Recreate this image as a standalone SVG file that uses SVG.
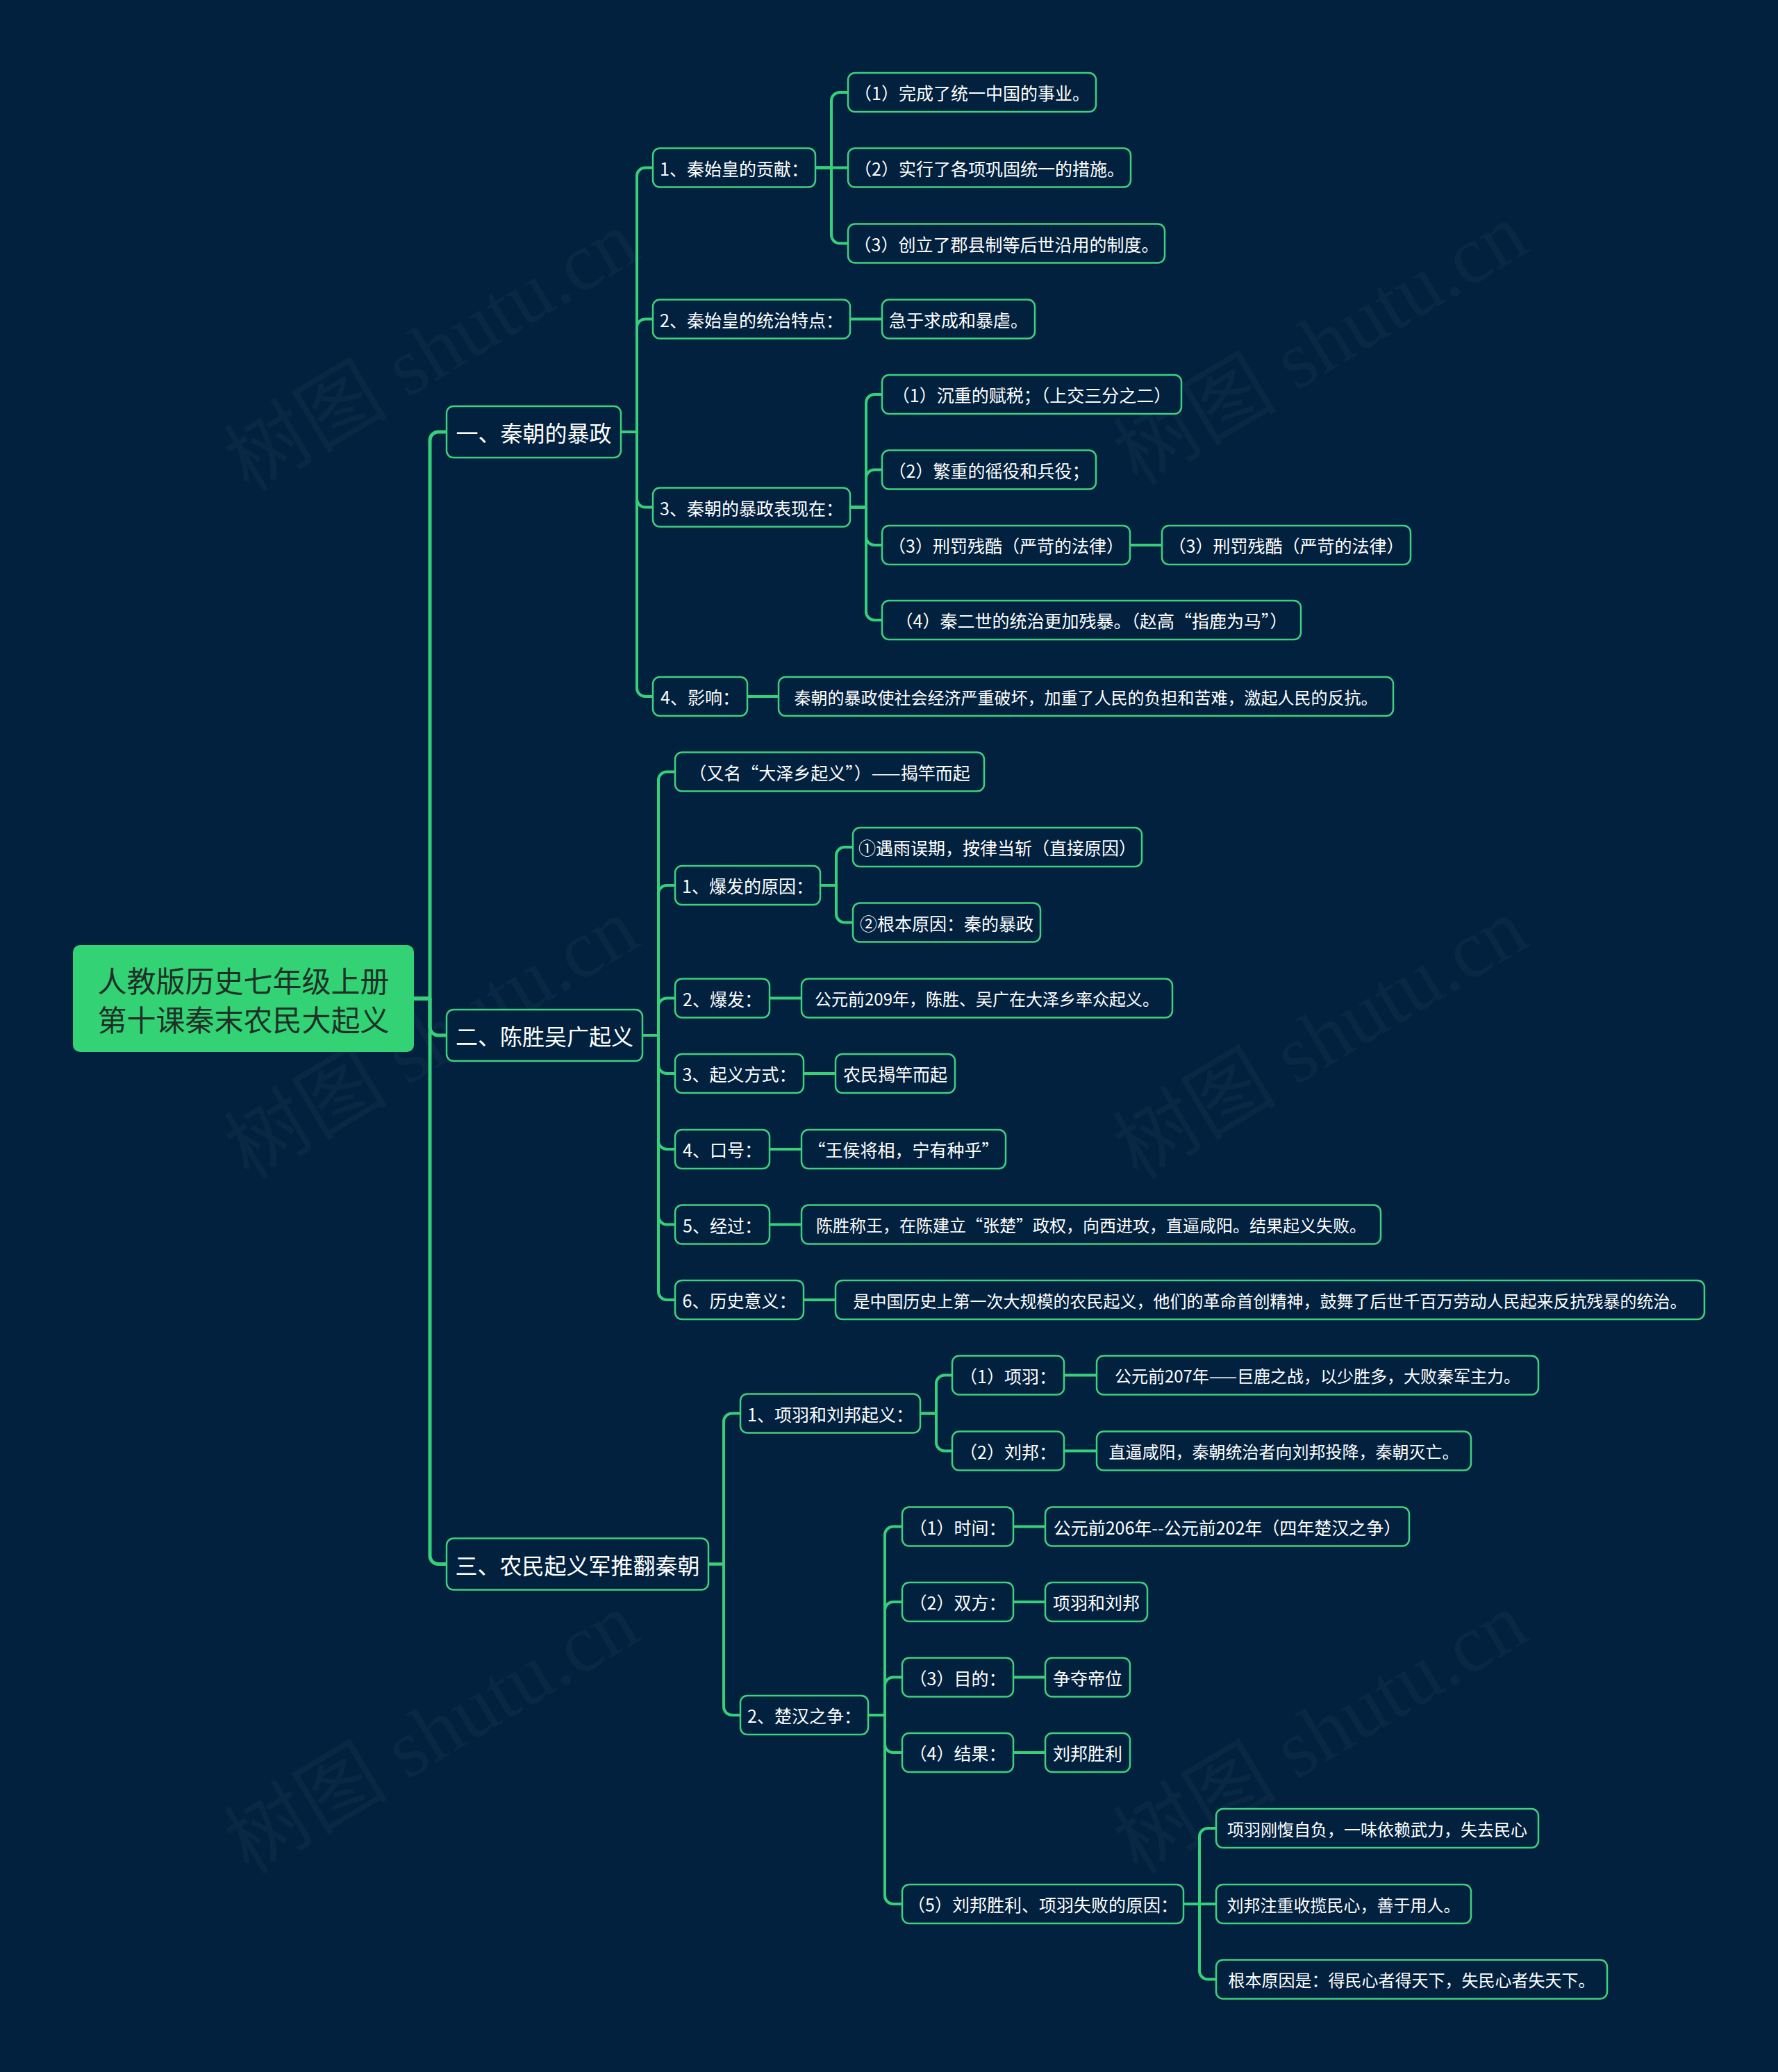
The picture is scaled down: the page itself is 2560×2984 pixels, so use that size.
<svg xmlns="http://www.w3.org/2000/svg" width="2560" height="2984" viewBox="0 0 2560 2984">
<style>
.bg{fill:#01213e}
.wm{font-family:"Liberation Serif","Noto Sans CJK SC",serif;font-size:118px;fill:#ffffff;fill-opacity:0.035;text-anchor:middle}
.root rect{fill:#33d375}
.root text{font-family:"Noto Sans CJK SC","Noto Sans",sans-serif;font-size:42px;fill:#1f3028;text-anchor:middle;dominant-baseline:central}
.n rect{fill:#01213e;stroke:#3fd07f;stroke-width:2.5}
.n text{font-family:"Noto Sans CJK SC","Noto Sans",sans-serif;font-size:25px;fill:#ffffff;text-anchor:middle;dominant-baseline:central}
.n.s text{font-size:24px}
.l1 text{font-size:32px}
.c path{fill:none;stroke:#36cf7a;stroke-width:4;stroke-linecap:round;stroke-linejoin:round}
.c .t path{stroke-width:5}
</style>
<rect class="bg" x="0" y="0" width="2560" height="2984"/>
<g id="watermarks">
<text class="wm" transform="translate(642,540) rotate(-31)">树图 shutu.cn</text>
<text class="wm" transform="translate(1922,530) rotate(-31)">树图 shutu.cn</text>
<text class="wm" transform="translate(642,1530) rotate(-31)">树图 shutu.cn</text>
<text class="wm" transform="translate(1922,1530) rotate(-31)">树图 shutu.cn</text>
<text class="wm" transform="translate(642,2530) rotate(-31)">树图 shutu.cn</text>
<text class="wm" transform="translate(1922,2530) rotate(-31)">树图 shutu.cn</text>
</g>
<g id="connectors" class="c">
<g class="t">
<path d="M596 1438 H619 V634 A12 12 0 0 1 631 622 H643"/>
<path d="M596 1438 H619 V1479 A12 12 0 0 0 631 1491 H643"/>
<path d="M596 1438 H619 V2240.5 A12 12 0 0 0 631 2252.5 H643"/>
</g>
<path d="M894 622 H917 V253.5 A12 12 0 0 1 929 241.5 H940"/>
<path d="M894 622 H917 V471.5 A12 12 0 0 1 929 459.5 H940"/>
<path d="M894 622 H917 V718.5 A12 12 0 0 0 929 730.5 H940"/>
<path d="M894 622 H917 V991 A12 12 0 0 0 929 1003 H940"/>
<path d="M1174 241.5 H1197 V145 A12 12 0 0 1 1209 133 H1221"/>
<path d="M1174 241.5 H1221"/>
<path d="M1174 241.5 H1197 V338.5 A12 12 0 0 0 1209 350.5 H1221"/>
<path d="M1224 459.5 H1270"/>
<path d="M1224 730.5 H1247 V580 A12 12 0 0 1 1259 568 H1270"/>
<path d="M1224 730.5 H1247 V688.5 A12 12 0 0 1 1259 676.5 H1270"/>
<path d="M1224 730.5 H1247 V773 A12 12 0 0 0 1259 785 H1270"/>
<path d="M1224 730.5 H1247 V881 A12 12 0 0 0 1259 893 H1270"/>
<path d="M1627 785 H1673"/>
<path d="M1076 1003 H1121"/>
<path d="M925 1491 H948 V1123.5 A12 12 0 0 1 960 1111.5 H972"/>
<path d="M925 1491 H948 V1287 A12 12 0 0 1 960 1275 H972"/>
<path d="M925 1491 H948 V1449.5 A12 12 0 0 1 960 1437.5 H972"/>
<path d="M925 1491 H948 V1534 A12 12 0 0 0 960 1546 H972"/>
<path d="M925 1491 H948 V1643 A12 12 0 0 0 960 1655 H972"/>
<path d="M925 1491 H948 V1751.5 A12 12 0 0 0 960 1763.5 H972"/>
<path d="M925 1491 H948 V1860 A12 12 0 0 0 960 1872 H972"/>
<path d="M1181 1275 H1204 V1232 A12 12 0 0 1 1216 1220 H1228"/>
<path d="M1181 1275 H1204 V1316.5 A12 12 0 0 0 1216 1328.5 H1228"/>
<path d="M1108 1437.5 H1154"/>
<path d="M1157 1546 H1203"/>
<path d="M1108 1655 H1154"/>
<path d="M1108 1763.5 H1154"/>
<path d="M1157 1872 H1203"/>
<path d="M1020 2252.5 H1042 V2047.5 A12 12 0 0 1 1054 2035.5 H1066"/>
<path d="M1020 2252.5 H1042 V2458 A12 12 0 0 0 1054 2470 H1066"/>
<path d="M1325 2035.5 H1348 V1992.5 A12 12 0 0 1 1360 1980.5 H1371"/>
<path d="M1325 2035.5 H1348 V2077.5 A12 12 0 0 0 1360 2089.5 H1371"/>
<path d="M1532 1980.5 H1579"/>
<path d="M1532 2089.5 H1579"/>
<path d="M1250 2470 H1274 V2210.5 A12 12 0 0 1 1286 2198.5 H1299"/>
<path d="M1250 2470 H1274 V2319 A12 12 0 0 1 1286 2307 H1299"/>
<path d="M1250 2470 H1274 V2427.5 A12 12 0 0 1 1286 2415.5 H1299"/>
<path d="M1250 2470 H1274 V2512 A12 12 0 0 0 1286 2524 H1299"/>
<path d="M1250 2470 H1274 V2730 A12 12 0 0 0 1286 2742 H1299"/>
<path d="M1459 2198.5 H1505"/>
<path d="M1459 2307 H1505"/>
<path d="M1459 2415.5 H1505"/>
<path d="M1459 2524 H1505"/>
<path d="M1704 2742 H1727 V2645 A12 12 0 0 1 1739 2633 H1751"/>
<path d="M1704 2742 H1751"/>
<path d="M1704 2742 H1727 V2838.5 A12 12 0 0 0 1739 2850.5 H1751"/>
</g>
<g id="root" class="root">
<rect x="105" y="1361" width="491" height="154" rx="10"/>
<text x="350.5" y="1410">人教版历史七年级上册</text>
<text x="350.5" y="1466">第十课秦末农民大起义</text>
</g>
<g id="s1" class="n l1"><rect x="643" y="585" width="251" height="74" rx="10"/><text x="768.5" y="622">一、秦朝的暴政</text></g>
<g id="s2" class="n l1"><rect x="643" y="1454" width="282" height="74" rx="10"/><text x="784" y="1491">二、陈胜吴广起义</text></g>
<g id="s3" class="n l1"><rect x="643" y="2215.5" width="377" height="74" rx="10"/><text x="831.5" y="2252.5">三、农民起义军推翻秦朝</text></g>

<g id="a1" class="n"><rect x="940" y="213.5" width="234" height="56" rx="10"/><text x="1057" y="241.5">1、秦始皇的贡献：</text></g>
<g id="a1a" class="n"><rect x="1221" y="105" width="357" height="56" rx="10"/><text x="1399.5" y="133">（1）完成了统一中国的事业。</text></g>
<g id="a1b" class="n"><rect x="1221" y="213.5" width="407" height="56" rx="10"/><text x="1424.5" y="241.5">（2）实行了各项巩固统一的措施。</text></g>
<g id="a1c" class="n"><rect x="1221" y="322.5" width="456" height="56" rx="10"/><text x="1449" y="350.5">（3）创立了郡县制等后世沿用的制度。</text></g>
<g id="a2" class="n"><rect x="940" y="431.5" width="284" height="56" rx="10"/><text x="1082" y="459.5">2、秦始皇的统治特点：</text></g>
<g id="a2a" class="n"><rect x="1270" y="431.5" width="220" height="56" rx="10"/><text x="1380" y="459.5">急于求成和暴虐。</text></g>
<g id="a3" class="n"><rect x="940" y="702.5" width="284" height="56" rx="10"/><text x="1082" y="730.5">3、秦朝的暴政表现在：</text></g>
<g id="a3a" class="n"><rect x="1270" y="540" width="431" height="56" rx="10"/><text x="1485.5" y="568">（1）沉重的赋税；（上交三分之二）</text></g>
<g id="a3b" class="n"><rect x="1270" y="648.5" width="308" height="56" rx="10"/><text x="1424" y="676.5">（2）繁重的徭役和兵役；</text></g>
<g id="a3c" class="n"><rect x="1270" y="757" width="357" height="56" rx="10"/><text x="1448.5" y="785">（3）刑罚残酷（严苛的法律）</text></g>
<g id="a3c1" class="n"><rect x="1673" y="757" width="358" height="56" rx="10"/><text x="1852" y="785">（3）刑罚残酷（严苛的法律）</text></g>
<g id="a3d" class="n"><rect x="1270" y="865" width="603" height="56" rx="10"/><text x="1571.5" y="893">（4）秦二世的统治更加残暴。（赵高“指鹿为马”）</text></g>
<g id="a4" class="n"><rect x="940" y="975" width="136" height="56" rx="10"/><text x="1008" y="1003">4、影响：</text></g>
<g id="a4a" class="n s"><rect x="1121" y="975" width="885" height="56" rx="10"/><text x="1563.5" y="1003">秦朝的暴政使社会经济严重破坏，加重了人民的负担和苦难，激起人民的反抗。</text></g>

<g id="b0" class="n"><rect x="972" y="1083.5" width="445" height="56" rx="10"/><text x="1194.5" y="1111.5">（又名“大泽乡起义”）——揭竿而起</text></g>
<g id="b1" class="n"><rect x="972" y="1247" width="209" height="56" rx="10"/><text x="1076.5" y="1275">1、爆发的原因：</text></g>
<g id="b1a" class="n"><rect x="1228" y="1192" width="416" height="56" rx="10"/><text x="1436" y="1220">①遇雨误期，按律当斩（直接原因）</text></g>
<g id="b1b" class="n"><rect x="1228" y="1300.5" width="270" height="56" rx="10"/><text x="1363" y="1328.5">②根本原因：秦的暴政</text></g>
<g id="b2" class="n"><rect x="972" y="1409.5" width="136" height="56" rx="10"/><text x="1040" y="1437.5">2、爆发：</text></g>
<g id="b2a" class="n s"><rect x="1154" y="1409.5" width="534" height="56" rx="10"/><text x="1421" y="1437.5">公元前209年，陈胜、吴广在大泽乡率众起义。</text></g>
<g id="b3" class="n"><rect x="972" y="1518" width="185" height="56" rx="10"/><text x="1064.5" y="1546">3、起义方式：</text></g>
<g id="b3a" class="n"><rect x="1203" y="1518" width="172" height="56" rx="10"/><text x="1289" y="1546">农民揭竿而起</text></g>
<g id="b4" class="n"><rect x="972" y="1627" width="136" height="56" rx="10"/><text x="1040" y="1655">4、口号：</text></g>
<g id="b4a" class="n"><rect x="1154" y="1627" width="294" height="56" rx="10"/><text x="1301" y="1655">“王侯将相，宁有种乎”</text></g>
<g id="b5" class="n"><rect x="972" y="1735.5" width="136" height="56" rx="10"/><text x="1040" y="1763.5">5、经过：</text></g>
<g id="b5a" class="n s"><rect x="1154" y="1735.5" width="834" height="56" rx="10"/><text x="1571" y="1763.5">陈胜称王，在陈建立“张楚”政权，向西进攻，直逼咸阳。结果起义失败。</text></g>
<g id="b6" class="n"><rect x="972" y="1844" width="185" height="56" rx="10"/><text x="1064.5" y="1872">6、历史意义：</text></g>
<g id="b6a" class="n s"><rect x="1203" y="1844" width="1251" height="56" rx="10"/><text x="1828.5" y="1872">是中国历史上第一次大规模的农民起义，他们的革命首创精神，鼓舞了后世千百万劳动人民起来反抗残暴的统治。</text></g>

<g id="c1" class="n"><rect x="1066" y="2007.5" width="259" height="56" rx="10"/><text x="1195.5" y="2035.5">1、项羽和刘邦起义：</text></g>
<g id="c1a" class="n"><rect x="1371" y="1952.5" width="161" height="56" rx="10"/><text x="1451.5" y="1980.5">（1）项羽：</text></g>
<g id="c1a1" class="n s"><rect x="1579" y="1952.5" width="636" height="56" rx="10"/><text x="1897" y="1980.5">公元前207年——巨鹿之战，以少胜多，大败秦军主力。</text></g>
<g id="c1b" class="n"><rect x="1371" y="2061.5" width="161" height="56" rx="10"/><text x="1451.5" y="2089.5">（2）刘邦：</text></g>
<g id="c1b1" class="n s"><rect x="1579" y="2061.5" width="539" height="56" rx="10"/><text x="1848.5" y="2089.5">直逼咸阳，秦朝统治者向刘邦投降，秦朝灭亡。</text></g>
<g id="c2" class="n"><rect x="1066" y="2442" width="184" height="56" rx="10"/><text x="1158" y="2470">2、楚汉之争：</text></g>
<g id="c2a" class="n"><rect x="1299" y="2170.5" width="160" height="56" rx="10"/><text x="1379" y="2198.5">（1）时间：</text></g>
<g id="c2a1" class="n"><rect x="1505" y="2170.5" width="524" height="56" rx="10"/><text x="1767" y="2198.5">公元前206年--公元前202年（四年楚汉之争）</text></g>
<g id="c2b" class="n"><rect x="1299" y="2279" width="160" height="56" rx="10"/><text x="1379" y="2307">（2）双方：</text></g>
<g id="c2b1" class="n"><rect x="1505" y="2279" width="147" height="56" rx="10"/><text x="1578.5" y="2307">项羽和刘邦</text></g>
<g id="c2c" class="n"><rect x="1299" y="2387.5" width="160" height="56" rx="10"/><text x="1379" y="2415.5">（3）目的：</text></g>
<g id="c2c1" class="n"><rect x="1505" y="2387.5" width="122" height="56" rx="10"/><text x="1566" y="2415.5">争夺帝位</text></g>
<g id="c2d" class="n"><rect x="1299" y="2496" width="160" height="56" rx="10"/><text x="1379" y="2524">（4）结果：</text></g>
<g id="c2d1" class="n"><rect x="1505" y="2496" width="122" height="56" rx="10"/><text x="1566" y="2524">刘邦胜利</text></g>
<g id="c2e" class="n"><rect x="1299" y="2714" width="405" height="56" rx="10"/><text x="1501.5" y="2742">（5）刘邦胜利、项羽失败的原因：</text></g>
<g id="c2e1" class="n s"><rect x="1751" y="2605" width="464" height="56" rx="10"/><text x="1983" y="2633">项羽刚愎自负，一味依赖武力，失去民心</text></g>
<g id="c2e2" class="n s"><rect x="1751" y="2714" width="367" height="56" rx="10"/><text x="1934.5" y="2742">刘邦注重收揽民心，善于用人。</text></g>
<g id="c2e3" class="n s"><rect x="1751" y="2822.5" width="563" height="56" rx="10"/><text x="2032.5" y="2850.5">根本原因是：得民心者得天下，失民心者失天下。</text></g>
</svg>
